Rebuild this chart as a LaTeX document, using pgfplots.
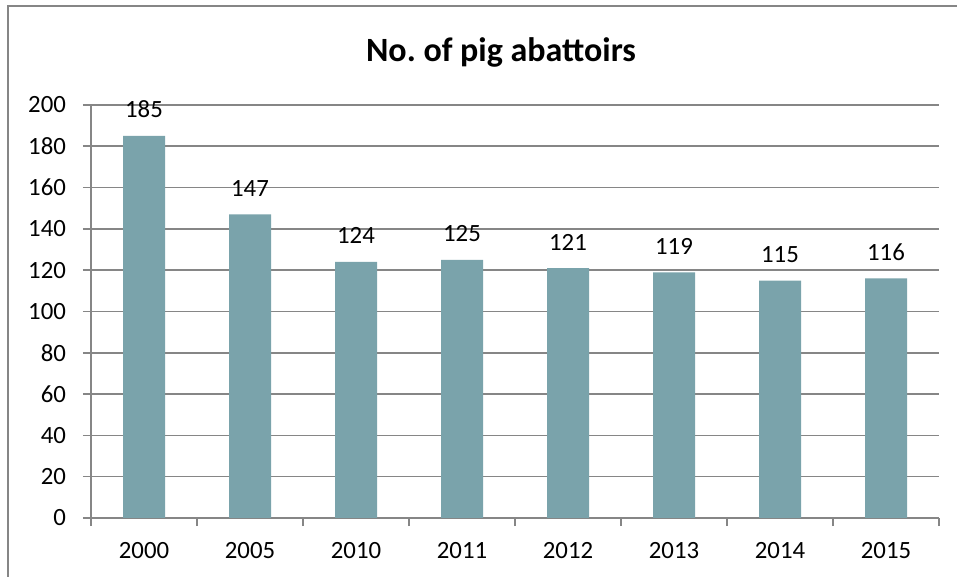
\documentclass[border=0pt]{standalone}
\usepackage{pgfplots}
\pgfplotsset{compat=1.18}
\usepackage{fontspec}
\setmainfont{Carlito}
\frenchspacing
\definecolor{barc}{RGB}{122,163,171}
\definecolor{gridc}{RGB}{134,134,134}
\begin{document}
\begin{tikzpicture}
\useasboundingbox (0pt,0pt) rectangle (478.5pt,288.5pt);
\draw[gridc, line width=0.8pt] (4pt,0pt) -- (4pt,285.5pt) -- (478.5pt,285.5pt);
\node[font=\fontsize{17}{20}\selectfont\bfseries] at (250.5pt,262.5pt) {No. of pig abattoirs};
\begin{axis}[
  at={(72pt,29.5pt)}, anchor=origin,
  scale only axis, width=424pt, height=206.5pt,
  xmin=-0.5, xmax=7.5, ymin=0, ymax=200,
  ytick={0,20,...,200},
  xtick={0,...,7},
  xticklabels={2000,2005,2010,2011,2012,2013,2014,2015},
  minor xtick={-0.5,0.5,...,7.5},
  axis x line*=bottom, axis y line*=left,
  axis line style={gridc, line width=0.8pt, -},
  tick align=outside,
  major x tick style={draw=none},
  minor x tick style={gridc, line width=0.8pt},
  minor tick length=4pt,
  major tick length=4pt,
  ytick style={gridc, line width=0.8pt},
  ymajorgrids, grid style={gridc, line width=0.8pt},
  tick label style={font=\fontsize{12.4}{14}\selectfont},
  /pgf/number format/assume math mode=true,
  xticklabel style={yshift=-4.5pt},
  yticklabel style={xshift=-5pt},
  ybar, bar width=21pt,
  nodes near coords,
  every node near coord/.append style={font=\fontsize{12.4}{14}\selectfont, yshift=5.5pt, text height=8.5pt, text depth=0pt},
  clip=false,
]
\addplot[fill=barc, draw=none] coordinates {(0,185) (1,147) (2,124) (3,125) (4,121) (5,119) (6,115) (7,116)};
\end{axis}
\end{tikzpicture}
\end{document}
